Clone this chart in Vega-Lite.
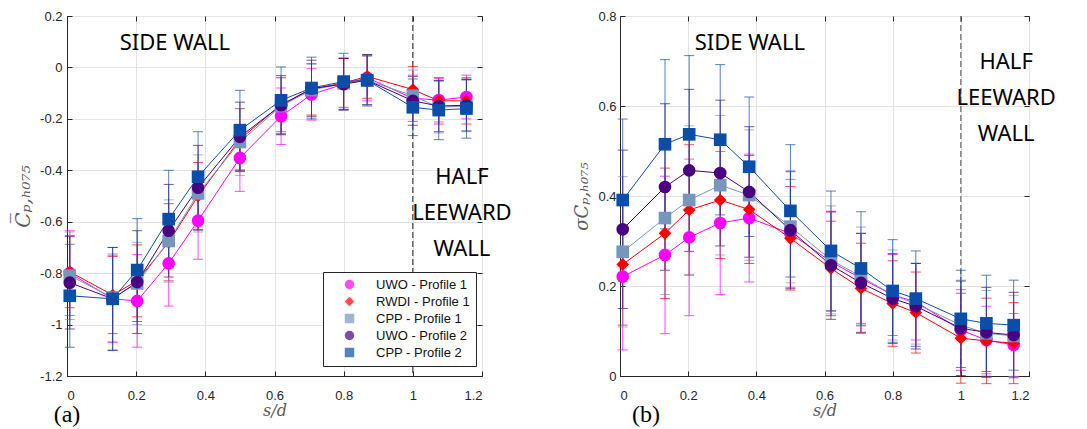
{
  "$schema": "https://vega.github.io/schema/vega-lite/v6.json",
  "background": "white",
  "padding": {"left": 13, "top": 9, "right": 0, "bottom": 0},
  "config": {
    "view": {"stroke": "#262626", "strokeWidth": 1},
    "axis": {
      "labelFont": "Liberation Sans", "labelFontSize": 13, "labelColor": "#262626",
      "domainColor": "#262626", "tickColor": "#262626", "gridColor": "#e3e3e3",
      "titleFont": "DejaVu Serif", "titleFontStyle": "italic", "titleFontWeight": "normal",
      "titleColor": "#5a5a5a", "titleFontSize": 16
    }
  },
  "datasets": {
    "one": [{}],
    "d": [
      {"s":0.008,"series":"UWO - Profile 1","cp":-0.80,"cpe":0.165,"sd":0.221,"sde":0.163},
      {"s":0.132,"series":"UWO - Profile 1","cp":-0.90,"cpe":0.17,"sd":0.269,"sde":0.175},
      {"s":0.203,"series":"UWO - Profile 1","cp":-0.908,"cpe":0.18,"sd":0.308,"sde":0.174},
      {"s":0.294,"series":"UWO - Profile 1","cp":-0.762,"cpe":0.166,"sd":0.34,"sde":0.159},
      {"s":0.379,"series":"UWO - Profile 1","cp":-0.596,"cpe":0.15,"sd":0.351,"sde":0.142},
      {"s":0.5,"series":"UWO - Profile 1","cp":-0.352,"cpe":0.13,"sd":0.317,"sde":0.12},
      {"s":0.619,"series":"UWO - Profile 1","cp":-0.19,"cpe":0.11,"sd":0.254,"sde":0.11},
      {"s":0.707,"series":"UWO - Profile 1","cp":-0.105,"cpe":0.1,"sd":0.217,"sde":0.1},
      {"s":0.8,"series":"UWO - Profile 1","cp":-0.065,"cpe":0.1,"sd":0.18,"sde":0.09},
      {"s":0.868,"series":"UWO - Profile 1","cp":-0.04,"cpe":0.09,"sd":0.165,"sde":0.085},
      {"s":1.0,"series":"UWO - Profile 1","cp":-0.12,"cpe":0.09,"sd":0.102,"sde":0.09},
      {"s":1.075,"series":"UWO - Profile 1","cp":-0.127,"cpe":0.085,"sd":0.08,"sde":0.075},
      {"s":1.155,"series":"UWO - Profile 1","cp":-0.115,"cpe":0.085,"sd":0.069,"sde":0.07},

      {"s":0.008,"series":"RWDI - Profile 1","cp":-0.795,"cpe":0.14,"sd":0.248,"sde":0.135},
      {"s":0.132,"series":"RWDI - Profile 1","cp":-0.885,"cpe":0.15,"sd":0.317,"sde":0.145},
      {"s":0.203,"series":"RWDI - Profile 1","cp":-0.83,"cpe":0.14,"sd":0.369,"sde":0.145},
      {"s":0.294,"series":"RWDI - Profile 1","cp":-0.68,"cpe":0.15,"sd":0.391,"sde":0.13},
      {"s":0.379,"series":"RWDI - Profile 1","cp":-0.50,"cpe":0.13,"sd":0.37,"sde":0.12},
      {"s":0.5,"series":"RWDI - Profile 1","cp":-0.28,"cpe":0.12,"sd":0.306,"sde":0.115},
      {"s":0.619,"series":"RWDI - Profile 1","cp":-0.145,"cpe":0.105,"sd":0.239,"sde":0.105},
      {"s":0.707,"series":"RWDI - Profile 1","cp":-0.085,"cpe":0.1,"sd":0.195,"sde":0.1},
      {"s":0.8,"series":"RWDI - Profile 1","cp":-0.06,"cpe":0.095,"sd":0.161,"sde":0.095},
      {"s":0.868,"series":"RWDI - Profile 1","cp":-0.035,"cpe":0.085,"sd":0.141,"sde":0.09},
      {"s":1.0,"series":"RWDI - Profile 1","cp":-0.086,"cpe":0.09,"sd":0.084,"sde":0.1},
      {"s":1.075,"series":"RWDI - Profile 1","cp":-0.13,"cpe":0.09,"sd":0.078,"sde":0.095},
      {"s":1.155,"series":"RWDI - Profile 1","cp":-0.13,"cpe":0.09,"sd":0.073,"sde":0.09},

      {"s":0.008,"series":"CPP - Profile 1","cp":-0.81,"cpe":0.17,"sd":0.276,"sde":0.167},
      {"s":0.132,"series":"CPP - Profile 1","cp":-0.895,"cpe":0.17,"sd":0.351,"sde":0.17},
      {"s":0.203,"series":"CPP - Profile 1","cp":-0.84,"cpe":0.16,"sd":0.391,"sde":0.165},
      {"s":0.294,"series":"CPP - Profile 1","cp":-0.675,"cpe":0.16,"sd":0.424,"sde":0.155},
      {"s":0.379,"series":"CPP - Profile 1","cp":-0.49,"cpe":0.15,"sd":0.402,"sde":0.145},
      {"s":0.5,"series":"CPP - Profile 1","cp":-0.29,"cpe":0.13,"sd":0.332,"sde":0.125},
      {"s":0.619,"series":"CPP - Profile 1","cp":-0.15,"cpe":0.11,"sd":0.258,"sde":0.12},
      {"s":0.707,"series":"CPP - Profile 1","cp":-0.088,"cpe":0.1,"sd":0.221,"sde":0.11},
      {"s":0.8,"series":"CPP - Profile 1","cp":-0.062,"cpe":0.1,"sd":0.18,"sde":0.1},
      {"s":0.868,"series":"CPP - Profile 1","cp":-0.05,"cpe":0.095,"sd":0.161,"sde":0.09},
      {"s":1.0,"series":"CPP - Profile 1","cp":-0.11,"cpe":0.1,"sd":0.113,"sde":0.1},
      {"s":1.075,"series":"CPP - Profile 1","cp":-0.155,"cpe":0.1,"sd":0.095,"sde":0.095},
      {"s":1.155,"series":"CPP - Profile 1","cp":-0.15,"cpe":0.1,"sd":0.089,"sde":0.09},

      {"s":0.008,"series":"UWO - Profile 2","cp":-0.837,"cpe":0.18,"sd":0.326,"sde":0.176},
      {"s":0.132,"series":"UWO - Profile 2","cp":-0.90,"cpe":0.2,"sd":0.42,"sde":0.185},
      {"s":0.203,"series":"UWO - Profile 2","cp":-0.835,"cpe":0.2,"sd":0.457,"sde":0.18},
      {"s":0.294,"series":"UWO - Profile 2","cp":-0.635,"cpe":0.18,"sd":0.451,"sde":0.162},
      {"s":0.379,"series":"UWO - Profile 2","cp":-0.468,"cpe":0.165,"sd":0.409,"sde":0.145},
      {"s":0.5,"series":"UWO - Profile 2","cp":-0.27,"cpe":0.135,"sd":0.324,"sde":0.13},
      {"s":0.619,"series":"UWO - Profile 2","cp":-0.147,"cpe":0.115,"sd":0.246,"sde":0.12},
      {"s":0.707,"series":"UWO - Profile 2","cp":-0.082,"cpe":0.11,"sd":0.207,"sde":0.11},
      {"s":0.8,"series":"UWO - Profile 2","cp":-0.065,"cpe":0.1,"sd":0.172,"sde":0.1},
      {"s":0.868,"series":"UWO - Profile 2","cp":-0.05,"cpe":0.095,"sd":0.155,"sde":0.095},
      {"s":1.0,"series":"UWO - Profile 2","cp":-0.13,"cpe":0.095,"sd":0.106,"sde":0.105},
      {"s":1.075,"series":"UWO - Profile 2","cp":-0.15,"cpe":0.1,"sd":0.097,"sde":0.1},
      {"s":1.155,"series":"UWO - Profile 2","cp":-0.147,"cpe":0.1,"sd":0.091,"sde":0.095},

      {"s":0.008,"series":"CPP - Profile 2","cp":-0.888,"cpe":0.2,"sd":0.391,"sde":0.18},
      {"s":0.132,"series":"CPP - Profile 2","cp":-0.90,"cpe":0.2,"sd":0.515,"sde":0.188},
      {"s":0.203,"series":"CPP - Profile 2","cp":-0.788,"cpe":0.2,"sd":0.537,"sde":0.175},
      {"s":0.294,"series":"CPP - Profile 2","cp":-0.59,"cpe":0.19,"sd":0.525,"sde":0.167},
      {"s":0.379,"series":"CPP - Profile 2","cp":-0.425,"cpe":0.175,"sd":0.465,"sde":0.155},
      {"s":0.5,"series":"CPP - Profile 2","cp":-0.244,"cpe":0.155,"sd":0.367,"sde":0.147},
      {"s":0.619,"series":"CPP - Profile 2","cp":-0.128,"cpe":0.13,"sd":0.278,"sde":0.133},
      {"s":0.707,"series":"CPP - Profile 2","cp":-0.08,"cpe":0.12,"sd":0.239,"sde":0.126},
      {"s":0.8,"series":"CPP - Profile 2","cp":-0.055,"cpe":0.11,"sd":0.189,"sde":0.114},
      {"s":0.868,"series":"CPP - Profile 2","cp":-0.05,"cpe":0.1,"sd":0.172,"sde":0.106},
      {"s":1.0,"series":"CPP - Profile 2","cp":-0.155,"cpe":0.11,"sd":0.127,"sde":0.108},
      {"s":1.075,"series":"CPP - Profile 2","cp":-0.166,"cpe":0.115,"sd":0.117,"sde":0.107},
      {"s":1.155,"series":"CPP - Profile 2","cp":-0.16,"cpe":0.115,"sd":0.113,"sde":0.1}
    ]
  },
  "resolve": {"scale": {"color": "independent", "shape": "independent", "x": "independent", "y": "independent"}, "legend": {"color": "independent", "shape": "independent"}},
  "spacing": 60,
  "hconcat": [
    {
      "width": 415, "height": 360,
      "resolve": {"axis": {"x": "independent", "y": "independent"}},
      "layer": [
        {
          "data": {"name": "one"},
          "mark": {"type": "rule", "strokeDash": [6, 3], "color": "#222", "strokeWidth": 1},
          "encoding": {
            "x": {"datum": 1, "type": "quantitative", "scale": {"domain": [0, 1.2], "nice": false, "zero": false}, "axis": null}
          }
        },
        {
          "data": {"name": "d"},
          "mark": {"type": "errorbar", "ticks": {"size": 10}, "opacity": 0.7},
          "encoding": {
            "x": {"field": "s", "type": "quantitative", "axis": null},
            "y": {"field": "cp", "type": "quantitative", "scale": {"domain": [-1.2, 0.2], "nice": false, "zero": false}, "axis": null},
            "yError": {"field": "cpe"},
            "color": {"field": "series", "type": "nominal"}
          }
        },
        {
          "data": {"name": "d"},
          "mark": {"type": "line", "strokeWidth": 1},
          "encoding": {
            "x": {"field": "s", "type": "quantitative", "axis": {"orient": "top", "labels": false, "domain": false, "grid": false, "tickSize": -5, "title": null, "values": [0, 0.2, 0.4, 0.6, 0.8, 1, 1.2]}},
            "y": {"field": "cp", "type": "quantitative", "axis": {"orient": "right", "labels": false, "domain": false, "grid": false, "tickSize": -5, "title": null, "values": [-1.2, -1, -0.8, -0.6, -0.4, -0.2, 0, 0.2]}},
            "color": {"field": "series", "type": "nominal"},
            "detail": {"field": "series"}
          }
        },
        {
          "data": {"name": "d"},
          "mark": {"type": "point", "filled": true, "opacity": 1, "size": 160},
          "encoding": {
            "x": {"field": "s", "type": "quantitative", "axis": {"orient": "bottom", "grid": true, "tickSize": -5, "labelPadding": 18, "title": "s/d", "titlePadding": 0, "values": [0, 0.2, 0.4, 0.6, 0.8, 1, 1.2], "labelExpr": "''+datum.value"}},
            "y": {"field": "cp", "type": "quantitative", "axis": {"orient": "left", "grid": true, "tickSize": -5, "labelPadding": 10, "title": "C̅ₚ,ₕ₀₇₅", "titleFontSize": 20, "titlePadding": 6, "values": [-1.2, -1, -0.8, -0.6, -0.4, -0.2, 0, 0.2], "labelExpr": "''+datum.value"}},
            "color": {"field": "series", "type": "nominal",
              "scale": {"domain": ["UWO - Profile 1", "RWDI - Profile 1", "CPP - Profile 1", "UWO - Profile 2", "CPP - Profile 2"], "range": ["#ff00ff", "#ff0000", "#7796bb", "#4b0082", "#0a4eaa"]},
              "legend": {"orient": "none", "legendX": 256, "legendY": 256, "title": null, "strokeColor": "#262626", "fillColor": "white", "padding": 6, "labelFont": "Liberation Sans", "labelFontSize": 13, "labelColor": "#111", "symbolSize": 90, "rowPadding": 3, "symbolOffset": 14, "labelOffset": 20, "symbolStrokeWidth": 0}},
            "shape": {"field": "series", "type": "nominal",
              "scale": {"domain": ["UWO - Profile 1", "RWDI - Profile 1", "CPP - Profile 1", "UWO - Profile 2", "CPP - Profile 2"], "range": ["circle", "diamond", "square", "circle", "square"]},
              "legend": {"orient": "none", "legendX": 256, "legendY": 256, "title": null, "strokeColor": "#262626", "fillColor": "white", "padding": 6, "labelFont": "Liberation Sans", "labelFontSize": 13, "labelColor": "#111", "symbolSize": 90, "rowPadding": 3, "symbolOffset": 14, "labelOffset": 20, "symbolStrokeWidth": 0}}
          }
        },
        {
          "data": {"name": "one"},
          "mark": {"type": "text", "font": "Noto Sans", "fontSize": 22, "color": "black", "align": "center", "baseline": "middle"},
          "encoding": {"x": {"datum": 0.312, "axis": null}, "y": {"datum": 0.095, "axis": null}, "text": {"value": "SIDE WALL"}}
        },
        {
          "data": {"name": "one"},
          "mark": {"type": "text", "font": "Noto Sans", "fontSize": 22, "color": "black", "align": "center", "baseline": "middle", "lineHeight": 36, "clip": false},
          "encoding": {"x": {"datum": 1.142, "axis": null}, "y": {"datum": -0.427, "axis": null}, "text": {"value": ["HALF", "LEEWARD", "WALL"]}}
        },
        {
          "data": {"name": "one"},
          "mark": {"type": "text", "font": "Liberation Serif", "fontSize": 24, "color": "black", "align": "center", "baseline": "middle", "clip": false},
          "encoding": {"x": {"datum": 0.0, "axis": null}, "y": {"datum": -1.352, "axis": null}, "text": {"value": "(a)"}}
        }
      ]
    },
    {
      "width": 409, "height": 360,
      "resolve": {"axis": {"x": "independent", "y": "independent"}},
      "layer": [
        {
          "data": {"name": "one"},
          "mark": {"type": "rule", "strokeDash": [6, 3], "color": "#666", "strokeWidth": 1.2},
          "encoding": {
            "x": {"datum": 1, "type": "quantitative", "scale": {"domain": [0, 1.2], "nice": false, "zero": false}, "axis": null}
          }
        },
        {
          "data": {"name": "d"},
          "mark": {"type": "errorbar", "ticks": {"size": 10}, "opacity": 0.7},
          "encoding": {
            "x": {"field": "s", "type": "quantitative", "axis": null},
            "y": {"field": "sd", "type": "quantitative", "scale": {"domain": [0, 0.8], "nice": false, "zero": false}, "axis": null},
            "yError": {"field": "sde"},
            "color": {"field": "series", "type": "nominal", "legend": null}
          }
        },
        {
          "data": {"name": "d"},
          "mark": {"type": "line", "strokeWidth": 1},
          "encoding": {
            "x": {"field": "s", "type": "quantitative", "axis": {"orient": "top", "labels": false, "domain": false, "grid": false, "tickSize": -5, "title": null, "values": [0, 0.2, 0.4, 0.6, 0.8, 1, 1.2]}},
            "y": {"field": "sd", "type": "quantitative", "axis": {"orient": "right", "labels": false, "domain": false, "grid": false, "tickSize": -5, "title": null, "values": [0, 0.2, 0.4, 0.6, 0.8]}},
            "color": {"field": "series", "type": "nominal", "legend": null},
            "detail": {"field": "series"}
          }
        },
        {
          "data": {"name": "d"},
          "mark": {"type": "point", "filled": true, "opacity": 1, "size": 160},
          "encoding": {
            "x": {"field": "s", "type": "quantitative", "axis": {"orient": "bottom", "grid": true, "tickSize": -5, "labelPadding": 18, "title": "s/d", "titlePadding": 0, "values": [0, 0.2, 0.4, 0.6, 0.8, 1, 1.2], "labelExpr": "''+datum.value"}},
            "y": {"field": "sd", "type": "quantitative", "axis": {"orient": "left", "grid": true, "tickSize": -5, "labelPadding": 9, "title": "σCₚ,ₕ₀₇₅", "titleFontSize": 18, "titlePadding": 6, "values": [0, 0.2, 0.4, 0.6, 0.8], "labelExpr": "''+datum.value"}},
            "color": {"field": "series", "type": "nominal",
              "scale": {"domain": ["UWO - Profile 1", "RWDI - Profile 1", "CPP - Profile 1", "UWO - Profile 2", "CPP - Profile 2"], "range": ["#ff00ff", "#ff0000", "#7796bb", "#4b0082", "#0a4eaa"]},
              "legend": null},
            "shape": {"field": "series", "type": "nominal",
              "scale": {"domain": ["UWO - Profile 1", "RWDI - Profile 1", "CPP - Profile 1", "UWO - Profile 2", "CPP - Profile 2"], "range": ["circle", "diamond", "square", "circle", "square"]},
              "legend": null}
          }
        },
        {
          "data": {"name": "one"},
          "mark": {"type": "text", "font": "Noto Sans", "fontSize": 22, "color": "black", "align": "center", "baseline": "middle"},
          "encoding": {"x": {"datum": 0.381, "axis": null}, "y": {"datum": 0.739, "axis": null}, "text": {"value": "SIDE WALL"}}
        },
        {
          "data": {"name": "one"},
          "mark": {"type": "text", "font": "Noto Sans", "fontSize": 22, "color": "black", "align": "center", "baseline": "middle", "lineHeight": 36, "clip": false},
          "encoding": {"x": {"datum": 1.133, "axis": null}, "y": {"datum": 0.697, "axis": null}, "text": {"value": ["HALF", "LEEWARD", "WALL"]}}
        },
        {
          "data": {"name": "one"},
          "mark": {"type": "text", "font": "Liberation Serif", "fontSize": 24, "color": "black", "align": "center", "baseline": "middle", "clip": false},
          "encoding": {"x": {"datum": 0.076, "axis": null}, "y": {"datum": -0.087, "axis": null}, "text": {"value": "(b)"}}
        }
      ]
    }
  ]
}
